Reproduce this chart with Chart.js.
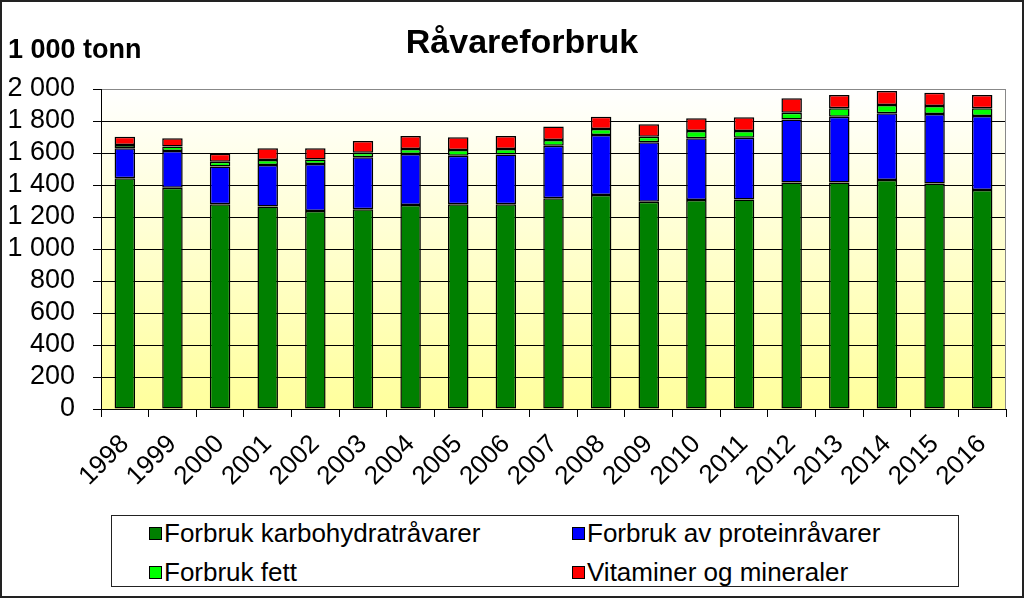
<!DOCTYPE html>
<html>
<head>
<meta charset="utf-8">
<script src="https://cdn.jsdelivr.net/npm/chart.js@4"></script>
<style>
  html, body { margin: 0; padding: 0; background: #fff; }
  #wrap { position: relative; width: 1024px; height: 598px; font-family: "Liberation Sans", Arial, sans-serif; }
  #frame { position: absolute; left: 0; top: 0; width: 1024px; height: 598px; box-sizing: border-box; border: 2px solid #222; pointer-events: none; }
  #title { position: absolute; left: 322px; width: 400px; top: 24px; text-align: center; font-weight: bold; font-size: 34px; line-height: 34px; }
  #unit { position: absolute; left: 8px; top: 36px; font-weight: bold; font-size: 27px; line-height: 27px; }
  #legend { position: absolute; left: 111px; top: 515px; width: 848px; height: 72px; box-sizing: border-box; border: 1px solid #222; background: #fff; }
  .item { position: absolute; font-size: 26px; line-height: 26px; white-space: nowrap; }
  .box { position: absolute; width: 13px; height: 13px; box-sizing: border-box; border: 1px solid #000; }
  .lbl { position: absolute; left: 15px; top: 0; }
</style>
</head>
<body>
<div id="wrap">
  <canvas id="chart" width="1024" height="598"></canvas>
  <div id="title">Råvareforbruk</div>
  <div id="unit">1 000 tonn</div>
  <div id="legend"></div>
  <div id="frame"></div>
</div>
<script>
const years = ['1998','1999','2000','2001','2002','2003','2004','2005','2006','2007',
               '2008','2009','2010','2011','2012','2013','2014','2015','2016'];

const karbohydrat = [1442,1383,1279,1265,1237,1248,1275,1279,1279,1317,1337,1296,1306,1310,1415,1415,1431,1410,1369];
const protein     = [187, 229, 236, 260, 294, 325, 319, 304, 311, 329, 375, 371, 386, 386, 395, 412, 417, 434, 462];
const fett        = [21,  28,  31,  31,  29,  29,  31,  36,  35,  35,  38,  35,  45,  41,  42,  52,  52,  50,  48];
const vitaminer   = [52,  52,  50,  73,  69,  73,  81,  79,  81,  84,  77,  77,  80,  86,  90,  83,  87,  83,  83];

const seriesNames = ['Forbruk karbohydratråvarer', 'Forbruk av proteinråvarer', 'Forbruk fett', 'Vitaminer og mineraler'];
const seriesColors = ['#008000', '#0000FF', '#00FF00', '#FF0000'];
const yMin = 0, yMax = 2000, yStep = 200;

function spaced(v) {
    return String(v).replace(/\B(?=(\d{3})+(?!\d))/g, ' ');
}

// plot area background + gray right border
const plotBg = {
    id: 'plotBg',
    beforeDraw(chart) {
        const a = chart.chartArea, c = chart.ctx;
        const g = c.createLinearGradient(0, a.top, 0, a.bottom);
        g.addColorStop(0, '#FFFFFF');
        g.addColorStop(1, '#FFFF9C');
        c.save();
        c.fillStyle = g;
        c.fillRect(a.left, a.top, a.right - a.left, a.bottom - a.top);
        c.restore();
    },
    beforeDatasetsDraw(chart) {
        const a = chart.chartArea, c = chart.ctx;
        c.save();
        c.strokeStyle = '#888';
        c.lineWidth = 1;
        c.beginPath();
        c.moveTo(a.right - 0.5, a.top);
        c.lineTo(a.right - 0.5, a.bottom);
        c.stroke();
        c.restore();
    }
};

const allData = [karbohydrat, protein, fett, vitaminer];
const datasets = allData.map((d, i) => ({
    label: seriesNames[i],
    data: d,
    backgroundColor: seriesColors[i],
    borderColor: '#000',
    borderWidth: 1.5,
    borderSkipped: false,
    barPercentage: 0.43,
    categoryPercentage: 1
}));

const ctx = document.getElementById('chart').getContext('2d');
const myChart = new Chart(ctx, {
    type: 'bar',
    data: { labels: years, datasets: datasets },
    plugins: [plotBg],
    options: {
        responsive: false,
        animation: false,
        layout: { padding: { top: 89, right: 18, left: 0, bottom: 0 } },
        plugins: {
            legend: { display: false },
            title: { display: false },
            tooltip: { enabled: false }
        },
        scales: {
            x: {
                stacked: true,
                afterFit: function(scale) { scale.height = 189; },
                border: { display: true, color: '#000', width: 1 },
                grid: { display: true, offset: true, drawOnChartArea: false, color: '#000', tickLength: 8 },
                ticks: {
                    color: '#000',
                    font: { family: 'Liberation Sans', size: 26 },
                    minRotation: 45,
                    maxRotation: 45,
                    padding: 12,
                    autoSkip: false
                }
            },
            y: {
                stacked: true,
                min: yMin,
                max: yMax,
                afterFit: function(scale) { scale.width = 101; },
                border: { display: true, color: '#000', width: 1 },
                grid: {
                    color: function(c) { return c.tick && c.tick.value === yMax ? '#888' : '#000'; },
                    tickColor: '#000',
                    tickLength: 8
                },
                ticks: {
                    stepSize: yStep,
                    autoSkip: false,
                    color: '#000',
                    padding: 18,
                    font: { family: 'Liberation Sans', size: 27 },
                    callback: function(value) { return spaced(value); }
                }
            }
        }
    }
});

// legend in two columns
const legend = document.getElementById('legend');
const colX = [37, 460];
const rowY = [4, 43];
seriesNames.forEach(function(name, i) {
    const item = document.createElement('div');
    item.className = 'item';
    item.style.left = colX[i % 2] + 'px';
    item.style.top = rowY[Math.floor(i / 2)] + 'px';
    item.innerHTML = '<div class="box" style="top:7px;background:' + seriesColors[i] + '"></div><div class="lbl">' + name + '</div>';
    legend.appendChild(item);
});
</script>
</body>
</html>
